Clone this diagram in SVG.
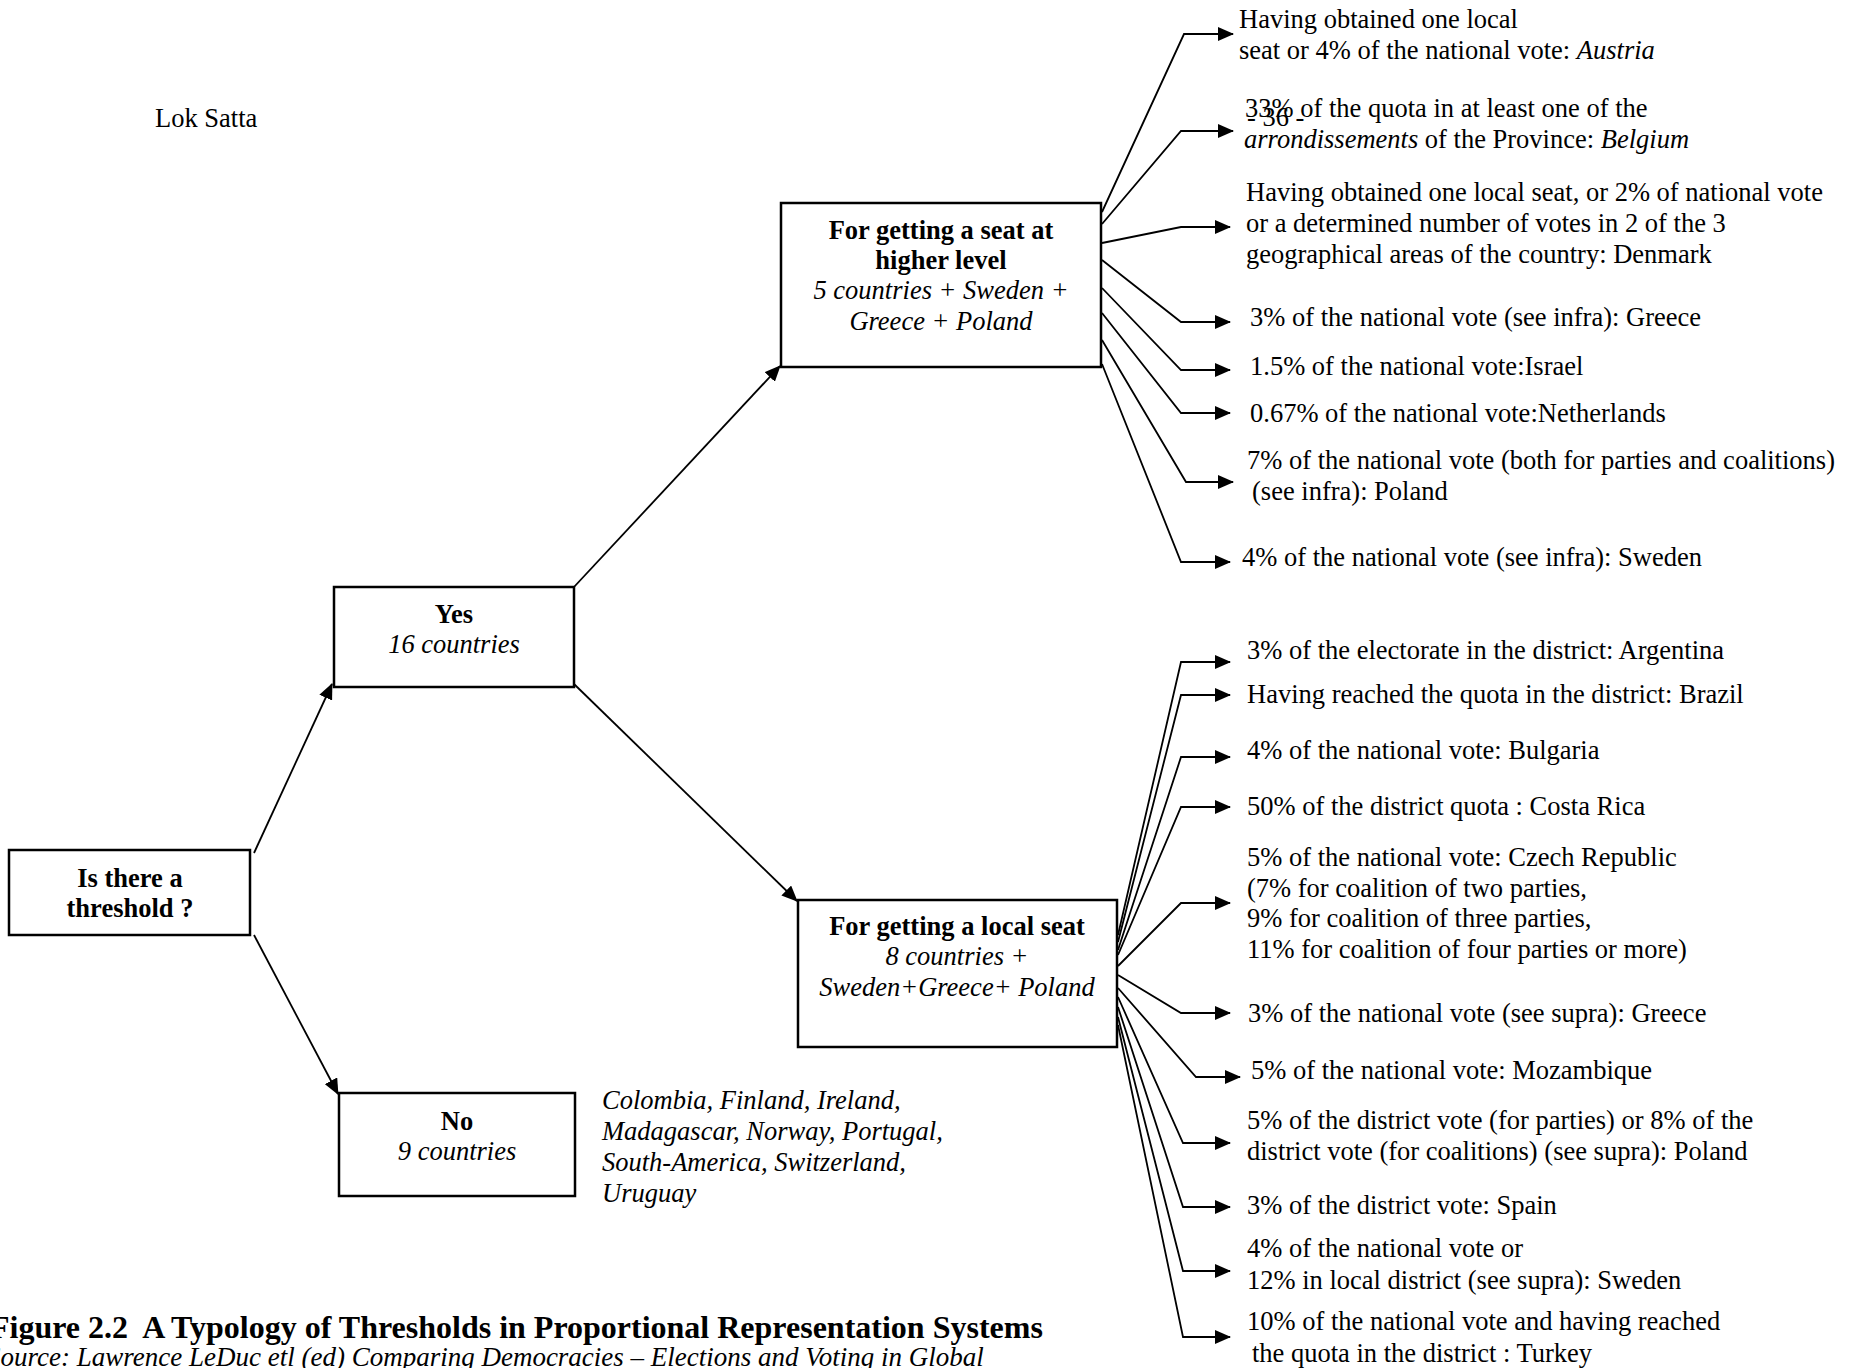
<svg xmlns="http://www.w3.org/2000/svg" width="1851" height="1368" viewBox="0 0 1851 1368">
<defs>
<marker id="ah" markerWidth="16" markerHeight="14" refX="15" refY="7" orient="auto" markerUnits="userSpaceOnUse"><path d="M0,0 L16,7 L0,14 z" fill="#000"/></marker>
<style>
text{font-family:"Liberation Serif","Times New Roman",serif;font-size:26.5px;fill:#000}
.b{font-weight:bold}
.i{font-style:italic}
.c{text-anchor:middle}
.box{fill:#fff;stroke:#000;stroke-width:2.5}
.fan{fill:none;stroke:#000;stroke-width:1.8;marker-end:url(#ah)}
</style>
</defs>
<rect width="1851" height="1368" fill="#fff"/>
<text x="155" y="127">Lok Satta</text>

<g id="connectors">
<line class="fan" x1="254" y1="853" x2="332" y2="684"/>
<line class="fan" x1="254" y1="935" x2="338" y2="1094"/>
<line class="fan" x1="574" y1="587" x2="780" y2="366"/>
<line class="fan" x1="574" y1="684" x2="797" y2="901"/>
<polyline class="fan" points="1102,212 1184,34 1233,34"/>
<polyline class="fan" points="1102,224 1181,131 1233,131"/>
<polyline class="fan" points="1102,243 1181,227 1230,227"/>
<polyline class="fan" points="1102,260 1181,322 1230,322"/>
<polyline class="fan" points="1102,288 1181,370 1230,370"/>
<polyline class="fan" points="1102,313 1181,413 1230,413"/>
<polyline class="fan" points="1102,340 1186,482 1233,482"/>
<polyline class="fan" points="1102,364 1181,562 1230,562"/>
<polyline class="fan" points="1118,935 1181,662 1230,662"/>
<polyline class="fan" points="1118,942 1181,695 1230,695"/>
<polyline class="fan" points="1118,950 1181,757 1230,757"/>
<polyline class="fan" points="1118,955 1181,807 1230,807"/>
<polyline class="fan" points="1118,966 1181,903 1230,903"/>
<polyline class="fan" points="1118,975 1181,1013 1230,1013"/>
<polyline class="fan" points="1118,988 1196,1077 1240,1077"/>
<polyline class="fan" points="1118,997 1183,1143 1230,1143"/>
<polyline class="fan" points="1118,1007 1183,1207 1230,1207"/>
<polyline class="fan" points="1118,1017 1183,1271 1230,1271"/>
<polyline class="fan" points="1118,1025 1183,1337 1230,1337"/>
</g>

<g id="n-threshold">
<rect class="box" x="9" y="850" width="241" height="85"/>
<text class="b c" x="130" y="887">Is there a</text>
<text class="b c" x="130" y="917">threshold ?</text>
</g>
<g id="n-yes">
<rect class="box" x="334" y="587" width="240" height="100"/>
<text class="b c" x="454" y="623">Yes</text>
<text class="i c" x="454" y="653">16 countries</text>
</g>
<g id="n-no">
<rect class="box" x="339" y="1093" width="236" height="103"/>
<text class="b c" x="457" y="1130">No</text>
<text class="i c" x="457" y="1160">9 countries</text>
</g>
<g id="n-no-list">
<text class="i" x="602" y="1109">Colombia, Finland, Ireland,</text>
<text class="i" x="602" y="1140">Madagascar, Norway, Portugal,</text>
<text class="i" x="602" y="1171">South-America, Switzerland,</text>
<text class="i" x="602" y="1202">Uruguay</text>
</g>
<g id="n-higher">
<rect class="box" x="781" y="203" width="320" height="164"/>
<text class="b c" x="941" y="239">For getting a seat at</text>
<text class="b c" x="941" y="269">higher level</text>
<text class="i c" x="941" y="299">5 countries + Sweden +</text>
<text class="i c" x="941" y="330">Greece + Poland</text>
</g>
<g id="n-local">
<rect class="box" x="798" y="900" width="319" height="147"/>
<text class="b c" x="957" y="935">For getting a local seat</text>
<text class="i c" x="957" y="965">8 countries +</text>
<text class="i c" x="957" y="996">Sweden+Greece+ Poland</text>
</g>

<g id="n-austria">
<text x="1239" y="28">Having obtained one local</text>
<text x="1239" y="59">seat or 4% of the national vote: <tspan class="i">Austria</tspan></text>
</g>
<g id="n-belgium">
<text x="1245" y="117">33% of the quota in at least one of the</text>
<text x="1247" y="126">- 36 -</text>
<text x="1244" y="148"><tspan class="i">arrondissements</tspan> of the Province: <tspan class="i">Belgium</tspan></text>
</g>
<g id="n-denmark">
<text x="1246" y="201">Having obtained one local seat, or 2% of national vote</text>
<text x="1246" y="232">or a determined number of votes in 2 of the 3</text>
<text x="1246" y="263">geographical areas of the country: Denmark</text>
</g>
<g id="n-greece-h"><text x="1250" y="326">3% of the national vote (see infra): Greece</text></g>
<g id="n-israel"><text x="1250" y="375">1.5% of the national vote:Israel</text></g>
<g id="n-netherlands"><text x="1250" y="422">0.67% of the national vote:Netherlands</text></g>
<g id="n-poland-h">
<text x="1247" y="469">7% of the national vote (both for parties and coalitions)</text>
<text x="1252" y="500">(see infra): Poland</text>
</g>
<g id="n-sweden-h"><text x="1242" y="566">4% of the national vote (see infra): Sweden</text></g>

<g id="n-argentina"><text x="1247" y="659">3% of the electorate in the district: Argentina</text></g>
<g id="n-brazil"><text x="1247" y="703">Having reached the quota in the district: Brazil</text></g>
<g id="n-bulgaria"><text x="1247" y="759">4% of the national vote: Bulgaria</text></g>
<g id="n-costarica"><text x="1247" y="815">50% of the district quota : Costa Rica</text></g>
<g id="n-czech">
<text x="1247" y="866">5% of the national vote: Czech Republic</text>
<text x="1247" y="897">(7% for coalition of two parties,</text>
<text x="1247" y="927">9% for coalition of three parties,</text>
<text x="1247" y="958">11% for coalition of four parties or more)</text>
</g>
<g id="n-greece-l"><text x="1248" y="1022">3% of the national vote (see supra): Greece</text></g>
<g id="n-mozambique"><text x="1251" y="1079">5% of the national vote: Mozambique</text></g>
<g id="n-poland-l">
<text x="1247" y="1129">5% of the district vote (for parties) or 8% of the</text>
<text x="1247" y="1160">district vote (for coalitions) (see supra): Poland</text>
</g>
<g id="n-spain"><text x="1247" y="1214">3% of the district vote: Spain</text></g>
<g id="n-sweden-l">
<text x="1247" y="1257">4% of the national vote or</text>
<text x="1247" y="1289">12% in local district (see supra): Sweden</text>
</g>
<g id="n-turkey">
<text x="1247" y="1330">10% of the national vote and having reached</text>
<text x="1252" y="1362">the quota in the district : Turkey</text>
</g>

<g id="caption">
<text class="b" x="-10" y="1338" style="font-size:32px">Figure 2.2&#160; A Typology of Thresholds in Proportional Representation Systems</text>
<text class="i" x="-13" y="1366" style="font-size:27px">Source: Lawrence LeDuc etl (ed) Comparing Democracies – Elections and Voting in Global</text>
</g>
</svg>
